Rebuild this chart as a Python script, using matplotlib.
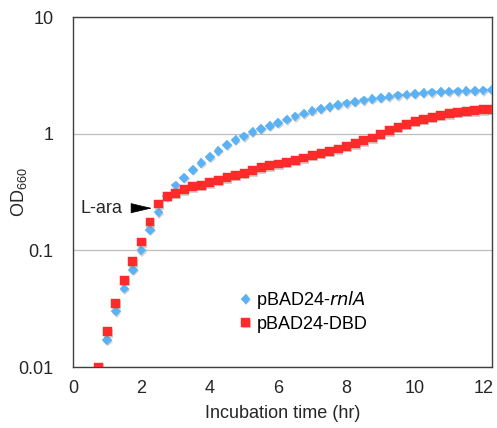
import matplotlib
matplotlib.use("Agg")
import matplotlib.pyplot as plt
import matplotlib.patheffects as pe
from matplotlib.ticker import FixedLocator, FixedFormatter, NullLocator

plt.rcParams["font.family"] = ["Liberation Sans", "DejaVu Sans"]
plt.rcParams["mathtext.default"] = "regular"

# ----------------------------------------------------------------------
# Data (read off the reference picture), sampled every 15 min
time_hr = [0.75, 1.0, 1.25, 1.5, 1.75, 2.0, 2.25, 2.5, 2.75, 3.0,
           3.25, 3.5, 3.75, 4.0, 4.25, 4.5, 4.75, 5.0, 5.25, 5.5,
           5.75, 6.0, 6.25, 6.5, 6.75, 7.0, 7.25, 7.5, 7.75, 8.0,
           8.25, 8.5, 8.75, 9.0, 9.25, 9.5, 9.75, 10.0, 10.25, 10.5,
           10.75, 11.0, 11.25, 11.5, 11.75, 12.0, 12.25]

od_rnlA = [0.0088, 0.017, 0.030, 0.047, 0.068, 0.100, 0.150, 0.212, 0.29, 0.36,
           0.42, 0.49, 0.56, 0.63, 0.71, 0.80, 0.88, 0.95, 1.03, 1.10,
           1.16, 1.23, 1.32, 1.41, 1.49, 1.56, 1.63, 1.70, 1.76, 1.82,
           1.88, 1.93, 1.98, 2.03, 2.08, 2.13, 2.17, 2.20, 2.23, 2.26,
           2.28, 2.30, 2.31, 2.32, 2.34, 2.35, 2.37]

od_dbd = [0.010, 0.020, 0.035, 0.055, 0.080, 0.118, 0.175, 0.250, 0.29, 0.31,
          0.33, 0.35, 0.36, 0.38, 0.40, 0.42, 0.44, 0.46, 0.48, 0.51,
          0.53, 0.55, 0.57, 0.59, 0.62, 0.65, 0.68, 0.71, 0.74, 0.78,
          0.82, 0.87, 0.92, 0.99, 1.06, 1.13, 1.20, 1.27, 1.33, 1.39,
          1.44, 1.48, 1.52, 1.55, 1.57, 1.60, 1.62]

x_ticks = [0, 2, 4, 6, 8, 10, 12]
y_ticks = [0.01, 0.1, 1, 10]
y_tick_labels = ["0.01", "0.1", "1", "10"]

# L-ara addition point (arrow tip)
lara_time = 2.31
lara_od = 0.23

# ----------------------------------------------------------------------
fig = plt.figure(figsize=(4.97, 4.28), dpi=100)
ax = fig.add_axes([0.147, 0.1425, 0.843, 0.8175])

shadow = [pe.SimplePatchShadow(offset=(0.6, -1.0), shadow_rgbFace="#808080", alpha=0.35), pe.Normal()]

ax.plot(time_hr, od_rnlA, linestyle="none", marker="D", ms=4.9, color="#5AB2F4",
        mec="#5AB2F4", mew=0.3, label=r"pBAD24-$\mathit{rnlA}$", path_effects=shadow, zorder=3)
ax.plot(time_hr, od_dbd, linestyle="none", marker="s", ms=6.4, color="#FF2B2B",
        mec="#FF2B2B", mew=0.3, label="pBAD24-DBD", path_effects=shadow, zorder=4)

ax.set_yscale("log")
ax.set_ylim(0.01, 10)
ax.set_xlim(0, 12.25)
ax.yaxis.set_major_locator(FixedLocator(y_ticks))
ax.yaxis.set_major_formatter(FixedFormatter(y_tick_labels))
ax.yaxis.set_minor_locator(NullLocator())
ax.set_xticks(x_ticks)

ax.tick_params(axis="both", length=0, labelsize=13, colors="#262626")
ax.tick_params(axis="y", pad=14)
ax.tick_params(axis="x", pad=9)

ax.grid(axis="y", color="#BDBDBD", lw=0.9)
ax.set_axisbelow(True)
for s in ax.spines.values():
    s.set_color("#404040")
    s.set_linewidth(1.0)

ax.set_xlabel("Incubation time (hr)", fontsize=13, labelpad=6, color="#262626")
ax.set_ylabel("OD$_{660}$", fontsize=13, color="#262626")
ax.yaxis.set_label_coords(-0.105, 0.5)

# L-ara arrow + text
ax.annotate("", xy=(lara_time, lara_od), xytext=(-14, 0), textcoords="offset points",
            arrowprops=dict(arrowstyle="-|>,head_length=1.4,head_width=0.33", mutation_scale=10,
                            fc="black", ec="black", lw=0.5, shrinkA=0, shrinkB=0))
ax.annotate("L-ara", xy=(lara_time, lara_od), xytext=(-21.5, 0), textcoords="offset points",
            ha="right", va="center", fontsize=13, color="#262626")

ax.legend(loc="upper left", bbox_to_anchor=(0.36, 0.258), frameon=False, fontsize=13,
          handletextpad=0.1, handlelength=1.0, labelspacing=0.25, borderpad=0.2)

fig.savefig("out.png", dpi=100)
